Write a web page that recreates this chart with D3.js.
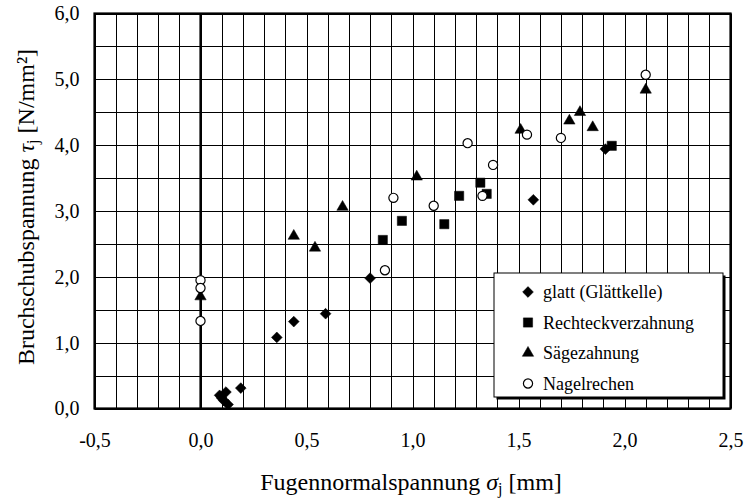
<!DOCTYPE html>
<html>
<head>
  <title>Bruchschubspannung</title>
  <style>
    body { margin: 0; background: #fff; }
    #chart { width: 745px; height: 499px; }
    text { font-family: 'Liberation Serif', 'Times New Roman', serif; fill: #000; }
  </style>
</head>
<body>
  <div id="chart"></div>
  <script src="https://d3js.org/d3.v7.min.js"></script>
  <script>
    // Data
    const glattX = [0.09, 0.12, 0.11, 0.13, 0.10, 0.19, 0.36, 0.44, 0.59, 0.80, 1.57, 1.91];
    const glattY = [0.20, 0.25, 0.12, 0.06, 0.16, 0.31, 1.08, 1.32, 1.44, 1.98, 3.17, 3.94];
    const rechteckX = [0.86, 0.95, 1.15, 1.22, 1.32, 1.35, 1.94];
    const rechteckY = [2.56, 2.85, 2.80, 3.23, 3.43, 3.26, 3.99];
    const saegeX = [0.00, 0.44, 0.54, 0.67, 1.02, 1.51, 1.74, 1.79, 1.85, 2.10];
    const saegeY = [1.70, 2.62, 2.44, 3.06, 3.52, 4.23, 4.37, 4.50, 4.27, 4.84];
    const nagelX = [0.00, 0.00, 0.00, 0.87, 0.91, 1.10, 1.26, 1.33, 1.38, 1.54, 1.70, 2.10];
    const nagelY = [1.95, 1.83, 1.33, 2.10, 3.20, 3.08, 4.03, 3.23, 3.70, 4.16, 4.11, 5.07];

    const seriesNames = ["glatt (Glättkelle)", "Rechteckverzahnung", "Sägezahnung", "Nagelrechen"];
    const xTicks = [-0.5, 0, 0.5, 1.0, 1.5, 2.0, 2.5];
    const yTicks = [0, 1, 2, 3, 4, 5, 6];

    const width = 745, height = 499;
    const margin = { top: 13.5, right: 14.5, bottom: 90.5, left: 94.5 };

    const svg = d3.select("#chart")
      .append("svg")
      .attr("width", width)
      .attr("height", height);

    const x = d3.scaleLinear().domain([-0.5, 2.5]).range([margin.left, width - margin.right]);
    const y = d3.scaleLinear().domain([0, 6]).range([height - margin.bottom, margin.top]);

    const locale = d3.formatLocale({ decimal: ",", thousands: ".", grouping: [3], currency: ["", " €"], minus: "-" });
    const fmt = locale.format(".1f");

    // grid
    const grid = svg.append("g");
    grid.selectAll(".vx")
      .data(d3.range(-5, 26).map(i => i / 10))
      .enter().append("line")
      .attr("x1", d => Math.round(x(d)) + 0.5).attr("x2", d => Math.round(x(d)) + 0.5)
      .attr("y1", y(0)).attr("y2", y(6))
      .attr("stroke", "#000").attr("stroke-width", 1);
    grid.selectAll(".hy")
      .data(d3.range(0, 13).map(i => i / 2))
      .enter().append("line")
      .attr("x1", x(-0.5)).attr("x2", x(2.5))
      .attr("y1", d => Math.round(y(d)) + 0.5).attr("y2", d => Math.round(y(d)) + 0.5)
      .attr("stroke", "#000").attr("stroke-width", 1);

    // zero line
    svg.append("line")
      .attr("x1", x(0)).attr("x2", x(0))
      .attr("y1", y(0)).attr("y2", y(6))
      .attr("stroke", "#000").attr("stroke-width", 2.2);

    // frame
    svg.append("rect")
      .attr("x", x(-0.5)).attr("y", y(6))
      .attr("width", x(2.5) - x(-0.5)).attr("height", y(0) - y(6))
      .attr("fill", "none").attr("stroke", "#000").attr("stroke-width", 2.2);

    // axes (labels only)
    const xAxis = d3.axisBottom(x).tickValues(xTicks).tickFormat(fmt).tickSize(0).tickPadding(24);
    svg.append("g")
      .attr("transform", `translate(0,${y(0)})`)
      .call(xAxis)
      .call(g => g.select(".domain").remove())
      .selectAll("text").style("font-size", "20px").style("font-family", "'Liberation Serif', serif");

    const yAxis = d3.axisLeft(y).tickValues(yTicks).tickFormat(fmt).tickSize(0).tickPadding(15);
    svg.append("g")
      .attr("transform", `translate(${x(-0.5)},0)`)
      .call(yAxis)
      .call(g => g.select(".domain").remove())
      .selectAll("text").style("font-size", "20px").style("font-family", "'Liberation Serif', serif");

    // markers
    const shapes = [
      { xs: glattX, ys: glattY, type: d3.symbolSquare, size: 58, rot: 45, fill: "#000" },
      { xs: rechteckX, ys: rechteckY, type: d3.symbolSquare, size: 85, rot: 0, fill: "#000" },
      { xs: saegeX, ys: saegeY, type: d3.symbolTriangle, size: 56, rot: 0, fill: "#000" },
      { xs: nagelX, ys: nagelY, type: d3.symbolCircle, size: 66, rot: 0, fill: "#fff" }
    ];

    shapes.forEach(s => {
      svg.append("g").selectAll("path")
        .data(s.xs.map((v, i) => [v, s.ys[i]]))
        .enter().append("path")
        .attr("d", d3.symbol().type(s.type).size(s.size))
        .attr("transform", d => `translate(${x(d[0])},${y(d[1])}) rotate(${s.rot})`)
        .attr("fill", s.fill)
        .attr("stroke", "#000")
        .attr("stroke-width", s.fill === "#fff" ? 1.2 : 0.5);
    });

    // legend
    const lg = svg.append("g").attr("transform", "translate(494,273)");
    lg.append("rect").attr("x", 2.5).attr("y", 2.5).attr("width", 229).attr("height", 124).attr("fill", "#000");
    lg.append("rect").attr("x", 0).attr("y", 0).attr("width", 229).attr("height", 124)
      .attr("fill", "#fff").attr("stroke", "#000").attr("stroke-width", 1);

    seriesNames.forEach((name, i) => {
      const s = shapes[i];
      const cy = 19 + i * 30.5;
      lg.append("path")
        .attr("d", d3.symbol().type(s.type).size(s.size))
        .attr("transform", `translate(34,${cy}) rotate(${s.rot})`)
        .attr("fill", s.fill)
        .attr("stroke", "#000")
        .attr("stroke-width", s.fill === "#fff" ? 1.2 : 0.5);
      lg.append("text")
        .attr("x", 49).attr("y", cy + 6)
        .style("font-size", "18px")
        .text(name);
    });

    // axis titles
    const xt = svg.append("text")
      .attr("x", 411).attr("y", 490)
      .attr("text-anchor", "middle")
      .style("font-size", "24px");
    xt.append("tspan").text("Fugennormalspannung  ");
    xt.append("tspan").style("font-style", "italic").text("σ");
    xt.append("tspan").attr("dy", 4).style("font-size", "16px").text("j");
    xt.append("tspan").attr("dy", -4).text(" [mm]");

    const yt = svg.append("text")
      .attr("transform", "translate(34,207) rotate(-90)")
      .attr("text-anchor", "middle")
      .style("font-size", "24px");
    yt.append("tspan").text("Bruchschubspannung ");
    yt.append("tspan").style("font-style", "italic").text("τ");
    yt.append("tspan").attr("dy", 4).style("font-size", "16px").text("j");
    yt.append("tspan").attr("dy", -4).text("  [N/mm²]");
  </script>
</body>
</html>
